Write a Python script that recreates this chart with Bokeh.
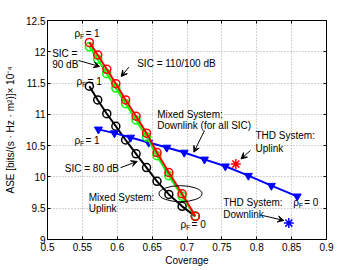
from bokeh.plotting import figure
from bokeh.models import (LinearAxis, FixedTicker, Arrow, VeeHead, ColumnDataSource, Range1d)
from bokeh.core.properties import value
from bokeh.embed import file_html
from bokeh.resources import INLINE

# ---------------- data ----------------
coverage = [0.560, 0.572, 0.585, 0.598, 0.612, 0.627, 0.642, 0.657, 0.674, 0.693, 0.712]
ase_sic110 = [12.15, 11.95, 11.72, 11.49, 11.23, 10.97, 10.70, 10.39, 10.07, 9.73, 9.37]
ase_sic90 = [12.08, 11.88, 11.65, 11.42, 11.17, 10.91, 10.64, 10.34, 10.02, 9.69, 9.37]
ase_sic80 = [11.45, 11.23, 11.01, 10.81, 10.59, 10.37, 10.15, 9.93, 9.72, 9.53, 9.37]

thd_dl_cov = [0.573, 0.596, 0.619, 0.645, 0.671, 0.696, 0.725, 0.755, 0.788, 0.821, 0.858]
thd_dl_ase = [10.76, 10.70, 10.63, 10.55, 10.47, 10.39, 10.28, 10.17, 10.02, 9.86, 9.69]

thd_ul_point = (0.770, 10.205)
thd_dl_point = (0.846, 9.262)

x_ticks = [0.5, 0.55, 0.6, 0.65, 0.7, 0.75, 0.8, 0.85, 0.9]
x_tick_labels = ["0.5", "0.55", "0.6", "0.65", "0.7", "0.75", "0.8", "0.85", "0.9"]
y_ticks = [9, 9.5, 10, 10.5, 11, 11.5, 12, 12.5]
y_tick_labels = ["9", "9.5", "10", "10.5", "11", "11.5", "12", "12.5"]

# annotations
note_text = ["SIC =", "90 dB", "SIC = 110/100 dB", "SIC = 80 dB",
             "Mixed System:", "Downlink (for all SIC)", "Mixed System:", "Uplink",
             "THD System:", "Uplink", "THD System:", "Downlink"]
note_x = [0.5067, 0.5067, 0.6286, 0.5248, 0.6573, 0.6573, 0.5592, 0.5592,
          0.7982, 0.7982, 0.7519, 0.7519]
note_y = [11.973, 11.797, 11.808, 10.136, 11.0, 10.823, 9.672, 9.497,
          10.655, 10.455, 9.593, 9.393]

rho_val = ["= 1", "= 1", "= 1", "= 0", "= 0"]
rho_x = [0.5387, 0.5416, 0.5387, 0.8523, 0.6907]
rho_y = [12.292, 11.526, 10.583, 9.593, 9.241]

arrow_x0 = [0.5444, 0.6166, 0.6047, 0.7251, 0.7910, 0.8078]
arrow_y0 = [11.861, 11.754, 10.147, 10.740, 10.423, 9.385]
arrow_x1 = [0.5746, 0.6057, 0.6286, 0.7098, 0.7774, 0.8388]
arrow_y1 = [11.765, 11.605, 10.248, 10.396, 10.288, 9.305]

ell_x, ell_y, ell_w, ell_h = [0.6907], [9.732], [0.0617], [0.256]

FONT = "Liberation Sans"

# ---------------- figure ----------------
p = figure(width=352, height=268, x_range=Range1d(0.5, 0.9), y_range=Range1d(9, 12.5),
           output_backend="svg", toolbar_location=None,
           min_border_left=47, min_border_right=26, min_border_top=20, min_border_bottom=29,
           x_axis_label="Coverage",
           y_axis_label="ASE [bits/(s · Hz · m²)]× 10⁻⁴")
p.background_fill_color = "white"
p.border_fill_color = "white"
p.outline_line_color = "black"

xt = FixedTicker(ticks=x_ticks)
yt = FixedTicker(ticks=y_ticks)

for ax, t, labs in ((p.xaxis[0], xt, x_tick_labels), (p.yaxis[0], yt, y_tick_labels)):
    ax.ticker = t
    ax.major_label_overrides = {tv: lb for tv, lb in zip(t.ticks, labs)}
    ax.major_tick_in = 3
    ax.major_tick_out = 0
    ax.minor_tick_line_color = None
    ax.axis_line_color = "black"
    ax.major_tick_line_color = "black"
    ax.major_label_text_font = FONT
    ax.major_label_text_font_size = "10px"
    ax.major_label_text_color = "black"
    ax.axis_label_text_font = FONT
    ax.axis_label_text_font_size = "10px"
    ax.axis_label_text_font_style = "normal"
    ax.axis_label_text_color = "black"
p.xaxis[0].major_label_standoff = 3
p.xaxis[0].axis_label_standoff = 1
p.yaxis[0].major_label_standoff = 2
p.yaxis[0].axis_label_standoff = 7

for loc, t in (("right", yt), ("above", xt)):
    ax = LinearAxis(ticker=t, major_tick_in=3, major_tick_out=0, minor_tick_line_color=None,
                    major_label_text_color=None, major_label_standoff=0,
                    axis_line_color="black", major_tick_line_color="black")
    p.add_layout(ax, loc)

p.xgrid.ticker = xt
p.ygrid.ticker = yt
for g in (p.xgrid[0], p.ygrid[0]):
    g.grid_line_color = "#a8a8a8"
    g.grid_line_dash = "1 2"
    g.grid_line_width = 1

# ---------------- series ----------------
p.line(coverage, ase_sic80, line_color="black", line_width=2)
p.scatter(coverage, ase_sic80, marker="circle", size=8, line_color="black", fill_alpha=0, line_width=1.5)

p.line(thd_dl_cov, thd_dl_ase, line_color="#0000ff", line_width=2)
p.scatter(thd_dl_cov, thd_dl_ase, marker="inverted_triangle", size=8, line_color="#0000ff",
          fill_color="#0000ff", line_width=1)

p.line(coverage, ase_sic90, line_color="#00ff00", line_width=2)
p.scatter(coverage, ase_sic90, marker="circle", size=8, line_color="#00ff00", fill_alpha=0, line_width=1.5)

p.line(coverage, ase_sic110, line_color="#ff0000", line_width=2)
p.scatter(coverage, ase_sic110, marker="circle", size=8, line_color="#ff0000", fill_alpha=0, line_width=1.5)

p.scatter([thd_ul_point[0]], [thd_ul_point[1]], marker="asterisk", size=10, line_color="#ff0000", line_width=1.5)
p.scatter([thd_dl_point[0]], [thd_dl_point[1]], marker="asterisk", size=10, line_color="#0000ff", line_width=1.5)

p.ellipse(ell_x, ell_y, width=ell_w, height=ell_h, line_color="black", fill_alpha=0, line_width=1)

# ---------------- annotations ----------------
p.text(note_x, note_y, text=note_text, text_font=value(FONT), text_font_size=value("10px"),
       text_baseline="middle", text_align="left", text_color="black")

p.text(rho_x, rho_y, text=["ρ"] * len(rho_x), text_font=value(FONT), text_font_size=value("10px"),
       text_baseline="middle", text_align="left", text_color="black")
p.text(rho_x, rho_y, text=["F"] * len(rho_x), text_font=value(FONT), text_font_size=value("7px"),
       text_baseline="middle", text_align="left", text_color="black", x_offset=5.5, y_offset=3)
p.text(rho_x, rho_y, text=rho_val, text_font=value(FONT), text_font_size=value("10px"),
       text_baseline="middle", text_align="left", text_color="black", x_offset=11)

arrow_src = ColumnDataSource(dict(x0=arrow_x0, y0=arrow_y0, x1=arrow_x1, y1=arrow_y1))
p.add_layout(Arrow(source=arrow_src, x_start="x0", y_start="y0", x_end="x1", y_end="y1",
                   line_color="black", line_width=1,
                   end=VeeHead(size=6, fill_color="black", line_color="black", line_width=1)))

open("out.html", "w").write(file_html(p, INLINE))
